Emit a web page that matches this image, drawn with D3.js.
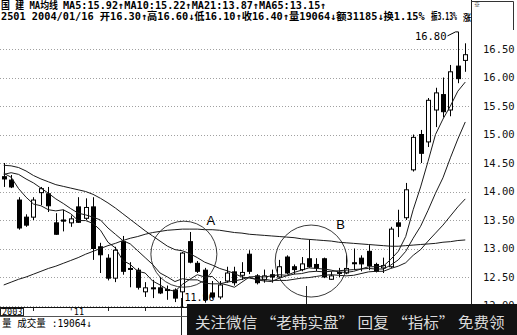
<!DOCTYPE html>
<html>
<head>
<meta charset="utf-8">
<script src="https://cdn.jsdelivr.net/npm/d3@7"></script>
<style>
  html, body { margin: 0; padding: 0; background: #fff; }
  svg { display: block; }
</style>
</head>
<body>
<div id="chart"></div>
<script>
////////////////////////////////////////////////////////////////////////
// Data: 63 daily candles ending 2004/01/16

const opens  = [14.26, 14.20, 13.85, 13.55, 13.55, 13.98, 13.96, 13.45, 13.50, 13.45,
                13.73, 13.53, 13.73, 13.03, 12.83, 12.48, 13.12, 12.65, 12.62, 12.24,
                12.31, 12.31, 12.28, 12.27, 12.24, 13.12, 12.74, 12.62, 12.22, 12.15,
                12.43, 12.59, 12.53, 12.90, 12.52, 12.45, 12.54, 12.50, 12.85, 12.68,
                12.63, 12.82, 12.72, 12.82, 12.46, 12.57, 12.57, 12.75, 12.83, 12.95,
                12.72, 12.66, 12.68, 13.45, 13.54, 14.38, 15.00, 14.87, 15.43, 15.70,
                15.43, 16.20, 16.30];
const highs  = [14.50, 14.29, 13.90, 13.60, 13.90, 14.08, 14.08, 13.62, 13.68, 13.58,
                13.90, 13.88, 13.90, 13.10, 12.90, 13.03, 13.22, 12.76, 12.66, 12.41,
                12.45, 12.50, 12.35, 12.30, 12.94, 13.29, 12.78, 12.66, 12.43, 12.43,
                12.68, 12.68, 12.76, 12.97, 12.55, 12.63, 12.63, 12.80, 12.88, 12.72,
                12.85, 13.15, 12.83, 12.84, 12.60, 12.66, 12.88, 13.00, 12.88, 13.06,
                12.75, 12.84, 13.38, 13.68, 14.15, 15.00, 15.08, 15.64, 15.82, 16.00,
                16.22, 16.80, 16.60];
const lows   = [14.08, 14.06, 13.33, 13.38, 13.50, 13.76, 13.64, 13.24, 13.30, 13.38,
                13.45, 13.50, 12.80, 12.57, 12.44, 12.41, 12.54, 12.32, 12.28, 12.15,
                12.13, 12.20, 12.10, 12.06, 11.96, 12.74, 12.57, 12.05, 12.12, 12.11,
                12.40, 12.35, 12.45, 12.55, 12.37, 12.40, 12.40, 12.48, 12.55, 12.55,
                12.60, 12.66, 12.60, 12.48, 12.45, 12.50, 12.55, 12.63, 12.60, 12.62,
                12.58, 12.57, 12.66, 13.20, 13.50, 14.35, 14.50, 14.78, 15.13, 15.30,
                15.32, 15.90, 16.10];
const closes = [14.22, 14.08, 13.36, 13.41, 13.85, 14.05, 13.75, 13.25, 13.48, 13.52,
                13.46, 13.72, 13.00, 12.89, 12.48, 12.97, 12.60, 12.64, 12.32, 12.31,
                12.30, 12.22, 12.27, 12.13, 12.92, 12.76, 12.60, 12.10, 12.15, 12.36,
                12.57, 12.40, 12.58, 12.60, 12.40, 12.52, 12.50, 12.68, 12.57, 12.63,
                12.73, 12.68, 12.66, 12.50, 12.52, 12.58, 12.65, 12.74, 12.73, 12.70,
                12.60, 12.70, 13.34, 13.39, 14.03, 14.95, 14.67, 15.60, 15.73, 15.40,
                16.10, 15.98, 16.40];

// moving averages as drawn on the chart
const ma5  = [14.32, 14.25, 14.05, 13.90, 13.78, 13.75, 13.68, 13.66, 13.68, 13.61,
              13.49, 13.49, 13.44, 13.32, 13.11, 13.01, 12.79, 12.72, 12.60, 12.57,
              12.43, 12.36, 12.28, 12.25, 12.37, 12.46, 12.54, 12.50, 12.51, 12.39,
              12.36, 12.32, 12.41, 12.50, 12.51, 12.50, 12.52, 12.54, 12.53, 12.58,
              12.62, 12.66, 12.65, 12.64, 12.62, 12.59, 12.58, 12.60, 12.64, 12.68,
              12.68, 12.69, 12.81, 12.95, 13.21, 13.68, 14.08, 14.53, 15.00, 15.27,
              15.50, 15.76, 15.92];
const ma10 = [14.30, 14.33, 14.30, 14.22, 14.15, 14.06, 13.97, 13.87, 13.79, 13.70,
              13.62, 13.59, 13.55, 13.50, 13.36, 13.25, 13.14, 13.08, 12.96, 12.84,
              12.72, 12.57, 12.50, 12.42, 12.47, 12.45, 12.45, 12.39, 12.38, 12.38,
              12.41, 12.43, 12.46, 12.50, 12.45, 12.43, 12.42, 12.48, 12.52, 12.55,
              12.56, 12.59, 12.60, 12.59, 12.60, 12.61, 12.62, 12.63, 12.64, 12.65,
              12.64, 12.64, 12.71, 12.80, 12.95, 13.18, 13.39, 13.67, 13.97, 14.24,
              14.59, 14.92, 15.22];
const ma21 = [14.46, 14.45, 14.42, 14.36, 14.28, 14.22, 14.17, 14.12, 14.09, 14.06,
              14.03, 14.00, 13.95, 13.88, 13.80, 13.71, 13.61, 13.51, 13.41, 13.31,
              13.22, 13.13, 13.04, 12.98, 12.96, 12.91, 12.84, 12.76, 12.71, 12.65,
              12.61, 12.56, 12.50, 12.48, 12.46, 12.46, 12.44, 12.44, 12.44, 12.46,
              12.48, 12.49, 12.51, 12.53, 12.54, 12.53, 12.52, 12.53, 12.56, 12.59,
              12.60, 12.60, 12.65, 12.69, 12.75, 12.88, 12.98, 13.13, 13.27, 13.41,
              13.57, 13.73, 13.87];
const ma65 = [12.36, 12.41, 12.46, 12.50, 12.55, 12.60, 12.65, 12.69, 12.74, 12.79,
              12.84, 12.90, 12.95, 13.00, 13.05, 13.09, 13.14, 13.18, 13.21, 13.25,
              13.28, 13.30, 13.32, 13.33, 13.34, 13.34, 13.34, 13.33, 13.33, 13.32,
              13.30, 13.28, 13.27, 13.25, 13.24, 13.23, 13.22, 13.21, 13.20, 13.19,
              13.17, 13.16, 13.15, 13.14, 13.13, 13.11, 13.10, 13.09, 13.08, 13.07,
              13.06, 13.05, 13.04, 13.04, 13.05, 13.06, 13.07, 13.08, 13.09, 13.11,
              13.12, 13.14, 13.15];

// right axis price ticks
const priceTicks = [12.0, 12.5, 13.0, 13.5, 14.0, 14.5, 15.0, 15.5, 16.0, 16.5];

// date axis: labelled candles and plain tick marks (candle index)
const dateLabels = [{i: 0, text: "2003", boxed: true}, {i: 9, text: "'11", boxed: false}];
const dateTicks = [4, 14, 19];

// circled zones: centre (candle index, price), radius in px
const zones = [{label: "A", i: 24.2, p: 12.90, r: 33},
               {label: "B", i: 41.3, p: 12.78, r: 36}];

// extreme marks
const highMark = {i: 61, p: 16.80, text: "16.80"};
const lowMark  = {i: 24, p: 11.96, text: "11.96"};

// header texts
const title1a = "国 建 MA均线";
const title1b = "MA5:15.92↑MA10:15.22↑MA21:13.87↑MA65:13.15↑";
const title2a = "2501 2004/01/16 开16.30↑高16.60↓低16.10↑收16.40↑量19064↓额31185↓换1.15%";
const title2b = "振3.13%";
const title2c = "涨";
const volText = "量 成交量 :19064↓";
const watermark = "关注微信 “老韩实盘” 回复 “指标” 免费领";

////////////////////////////////////////////////////////////////////////
// Layout

const W = 517, H = 335;
const plotRight = 471;
const mono = "'DejaVu Sans Mono', 'Noto Sans CJK SC', monospace";

const svg = d3.select("#chart").append("svg")
  .attr("width", W)
  .attr("height", H);

svg.append("rect").attr("width", W).attr("height", H).attr("fill", "#fff");

// squeeze a text horizontally to a given width (keeps its box honest)
function fitWidth(sel, len) {
  sel.each(function(d) {
    const w = typeof len === "function" ? len(d) : len;
    const natural = this.getComputedTextLength();
    const x = +this.getAttribute("x");
    if (natural > 0) {
      this.setAttribute("transform",
        `translate(${x},0) scale(${w / natural},1) translate(${-x},0)`);
    }
  });
}

const xScale = d3.scaleBand()
  .domain(d3.range(closes.length))
  .range([0, 469])
  .paddingInner(0.3)
  .paddingOuter(0.15);
const cx = i => xScale(0) + xScale.bandwidth() / 2 + i * xScale.step();

const yScale = d3.scaleLinear()
  .domain([12, 16.5])
  .range([305.5, 49]);

// dotted grid
svg.append("g")
  .attr("class", "grid")
  .selectAll("line")
  .data(priceTicks)
  .enter()
  .append("line")
  .attr("x1", 0)
  .attr("x2", plotRight)
  .attr("y1", d => Math.round(yScale(d)) + 0.5)
  .attr("y2", d => Math.round(yScale(d)) + 0.5)
  .attr("stroke", "#a0a0a0")
  .attr("stroke-width", 1)
  .attr("stroke-dasharray", "1,2");

// right price axis
const axis = svg.append("g")
  .attr("transform", `translate(${plotRight},0)`)
  .call(d3.axisRight(yScale)
    .tickValues(priceTicks)
    .tickFormat(d3.format(".2f"))
    .tickSize(0)
    .tickPadding(12));
axis.select(".domain").remove();
axis.selectAll("text")
  .attr("font-family", mono)
  .attr("font-size", 10.5)
  .attr("fill", "#111");

// frame lines
svg.append("line")
  .attr("x1", plotRight + 0.5).attr("x2", plotRight + 0.5)
  .attr("y1", 0).attr("y2", H)
  .attr("stroke", "#222");
svg.append("path")
  .attr("d", `M${plotRight},1.5H513.5V30`)
  .attr("fill", "none")
  .attr("stroke", "#333");
svg.append("text")
  .attr("x", 474).attr("y", 7)
  .attr("font-family", mono).attr("font-size", 6)
  .text("※");

// candles
const candles = svg.append("g").attr("class", "candles")
  .selectAll("g")
  .data(closes.map((c, i) => ({i: i, o: opens[i], h: highs[i], l: lows[i], c: c})))
  .enter()
  .append("g");

candles.append("line")
  .attr("x1", d => Math.round(cx(d.i)) + 0.5)
  .attr("x2", d => Math.round(cx(d.i)) + 0.5)
  .attr("y1", d => yScale(d.h))
  .attr("y2", d => yScale(d.l))
  .attr("stroke", "#000")
  .attr("stroke-width", 1);

candles.append("rect")
  .attr("x", d => Math.round(cx(d.i)) - 1.5)
  .attr("width", 4)
  .attr("y", d => yScale(Math.max(d.o, d.c)))
  .attr("height", d => Math.max(1, Math.abs(yScale(d.o) - yScale(d.c))))
  .attr("fill", d => d.c >= d.o ? "#fff" : "#000")
  .attr("stroke", "#000")
  .attr("stroke-width", 1);

// moving average lines
const maLine = d3.line()
  .x((d, i) => cx(i))
  .y(d => yScale(d));

svg.append("g")
  .attr("class", "ma")
  .selectAll("path")
  .data([ma5, ma10, ma21, ma65])
  .enter()
  .append("path")
  .attr("d", d => maLine(d))
  .attr("fill", "none")
  .attr("stroke", "#1a1a1a")
  .attr("stroke-width", 1);

// circled zones
const zoneG = svg.append("g").attr("class", "zones");
zoneG.selectAll("circle")
  .data(zones)
  .enter()
  .append("circle")
  .attr("cx", d => cx(d.i))
  .attr("cy", d => yScale(d.p))
  .attr("r", d => d.r)
  .attr("fill", "none")
  .attr("stroke", "#222")
  .attr("stroke-width", 0.9);
zoneG.selectAll("text")
  .data(zones)
  .enter()
  .append("text")
  .attr("x", d => cx(d.i) + d.r * 0.82)
  .attr("y", d => yScale(d.p) - d.r * 0.9)
  .attr("text-anchor", "middle")
  .attr("font-family", "'Liberation Sans', Arial, sans-serif")
  .attr("font-size", 13)
  .text(d => d.label);

// high / low marks
const hx = Math.round(cx(highMark.i)) + 0.5, hy = yScale(highMark.p);
svg.append("path")
  .attr("d", `M${hx - 11},${hy + 4}L${hx - 3},${hy}H${hx}`)
  .attr("fill", "none")
  .attr("stroke", "#000");
svg.append("text")
  .attr("x", hx - 12).attr("y", hy + 8)
  .attr("text-anchor", "end")
  .attr("font-family", mono).attr("font-size", 10.5)
  .text(highMark.text);

const lx = Math.round(cx(lowMark.i)) + 0.5;
svg.append("text")
  .attr("x", lx + 2).attr("y", 301)
  .attr("font-family", mono).attr("font-size", 10)
  .text(lowMark.text);

// thin pointer lines reaching down into the lower panel
svg.append("line")
  .attr("x1", lx - 1).attr("x2", lx - 1)
  .attr("y1", 298).attr("y2", H)
  .attr("stroke", "#222");
svg.append("line")
  .attr("x1", Math.round(cx(40.6)) + 0.5).attr("x2", Math.round(cx(40.6)) + 0.5)
  .attr("y1", 286).attr("y2", 305)
  .attr("stroke", "#222");

// date axis strip
svg.append("line")
  .attr("x1", 0).attr("x2", plotRight)
  .attr("y1", 307.5).attr("y2", 307.5)
  .attr("stroke", "#111");
svg.append("line")
  .attr("x1", 0).attr("x2", plotRight)
  .attr("y1", 316.5).attr("y2", 316.5)
  .attr("stroke", "#555");

svg.append("g")
  .selectAll("line")
  .data(dateTicks)
  .enter()
  .append("line")
  .attr("x1", d => Math.round(cx(d)) + 0.5)
  .attr("x2", d => Math.round(cx(d)) + 0.5)
  .attr("y1", 307.5).attr("y2", 311)
  .attr("stroke", "#222");

const dl = svg.append("g")
  .selectAll("g")
  .data(dateLabels)
  .enter()
  .append("g");
dl.filter(d => d.boxed)
  .append("rect")
  .attr("x", 0.5).attr("y", 308.5)
  .attr("width", 23).attr("height", 7)
  .attr("fill", "#fff")
  .attr("stroke", "#222");
dl.append("text")
  .attr("x", d => d.boxed ? 2 : cx(d.i) - 2)
  .attr("y", 315)
  .attr("font-family", mono)
  .attr("font-size", 8.5)
  .text(d => d.text);

svg.append("text")
  .attr("x", 2).attr("y", 327)
  .attr("font-family", mono)
  .attr("font-size", 10)
  .text(volText)
  .call(fitWidth, 90);

// header lines
const header = [
  {text: title1a, x: 1, y: 9, len: 57, size: 10},
  {text: title1b, x: 63, y: 9, len: 264, size: 10},
  {text: title2a, x: 1, y: 20.5, len: 424, size: 10},
  {text: title2b, x: 431, y: 20.5, len: 26, size: 10},
  {text: title2c, x: 463, y: 21, len: 8, size: 9}
];
svg.append("g")
  .selectAll("text")
  .data(header)
  .enter()
  .append("text")
  .attr("x", d => d.x)
  .attr("y", d => d.y)
  .attr("font-family", mono)
  .attr("font-size", d => d.size)
  .attr("font-weight", "bold")
  .text(d => d.text)
  .call(fitWidth, d => d.len);

// black banner along the bottom
svg.append("rect")
  .attr("x", 187).attr("y", 304)
  .attr("width", W - 187).attr("height", H - 304)
  .attr("fill", "#121212");
svg.append("text")
  .attr("x", 195).attr("y", 328)
  .attr("font-family", "'Noto Sans CJK SC', sans-serif")
  .attr("font-size", 14.5)
  .attr("fill", "#dcdcdc")
  .text(watermark)
  .call(fitWidth, 310);
</script>
</body>
</html>
